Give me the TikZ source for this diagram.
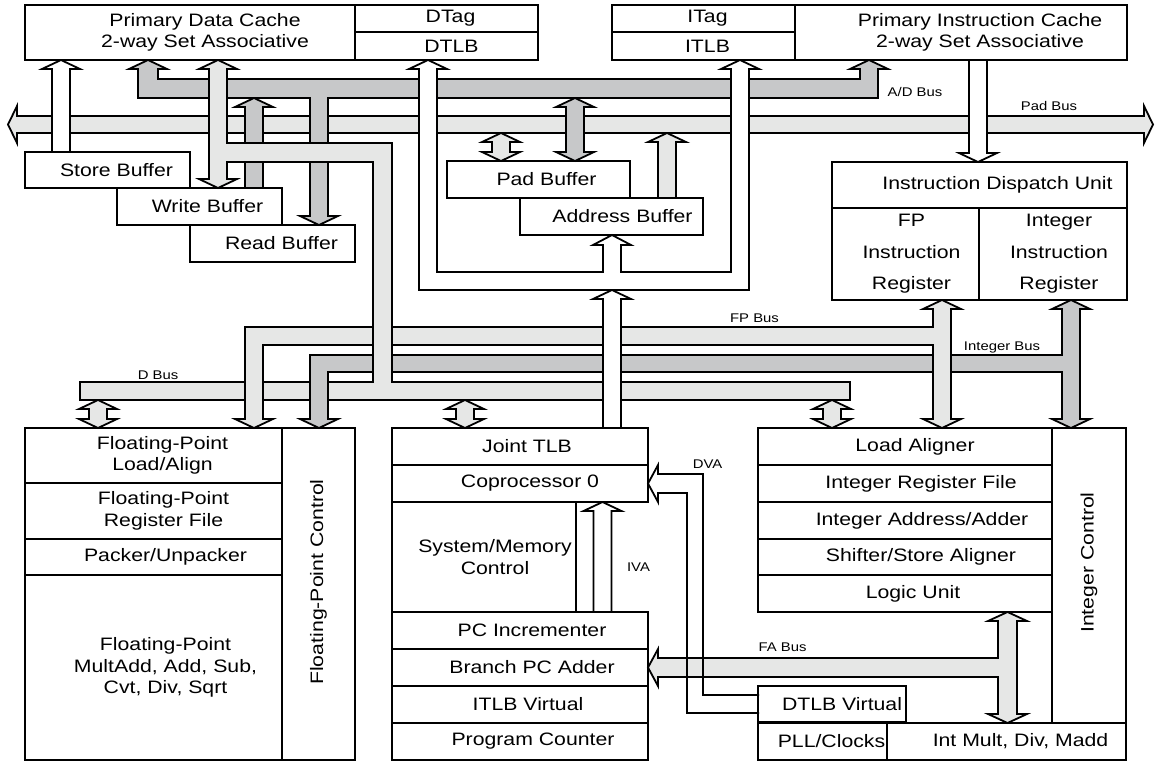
\documentclass[tikz,border=0pt]{standalone}
\usepackage{fontspec}
\setmainfont{Liberation Sans}[FakeStretch=1.18]
\definecolor{busL}{RGB}{230,231,230}
\definecolor{busD}{RGB}{199,200,201}
\newcommand{\boxfont}{\fontsize{9}{10.8}\selectfont}
\newcommand{\busfont}{\fontsize{6.3}{7.5}\selectfont}
% block arrows: [fill]{centre x}{base y}{tip y}
\newcommand{\busup}[4][]{\filldraw[bus,#1] ({#2-9},#3) -- ({#2-9},{#4+9}) -- ({#2-19},{#4+9}) -- (#2,#4) -- ({#2+19},{#4+9}) -- ({#2+9},{#4+9}) -- ({#2+9},#3) -- cycle;}
\newcommand{\busdn}[4][]{\filldraw[bus,#1] ({#2-9},#3) -- ({#2-9},{#4-9}) -- ({#2-19},{#4-9}) -- (#2,#4) -- ({#2+19},{#4-9}) -- ({#2+9},{#4-9}) -- ({#2+9},#3) -- cycle;}
% double block arrow: [fill]{centre x}{top tip y}{bottom tip y}
\newcommand{\busboth}[4][]{\filldraw[bus,#1] (#2,#3) -- ({#2+19},{#3+9}) -- ({#2+9},{#3+9}) -- ({#2+9},{#4-9}) -- ({#2+19},{#4-9}) -- (#2,#4) -- ({#2-19},{#4-9}) -- ({#2-9},{#4-9}) -- ({#2-9},{#3+9}) -- ({#2-19},{#3+9}) -- cycle;}

\begin{document}
\begin{tikzpicture}[x=0.5pt, y=-0.5pt,
    blk/.style n args={2}{draw, line width=0.6pt, anchor=north west,
        minimum width=#1*0.5pt, minimum height=#2*0.5pt,
        inner sep=0pt, outer sep=0pt},
    txt/.style={font=\boxfont, align=center, inner sep=0pt, xshift=#1},
    txt/.default=5pt,
    bus/.style={draw, line width=0.9pt, line join=miter},
    buslbl/.style={font=\busfont, inner sep=0pt}
  ]
  \useasboundingbox (0,0) rectangle (1155,761);

  % Pad bus
  \filldraw[bus, fill=busL] (8,124.5) -- (17,106) -- (17,116) -- (1144,116) -- (1144,106)
    -- (1153,124.5) -- (1144,143) -- (1144,133) -- (17,133) -- (17,143) -- cycle;
  % A/D bus
  \filldraw[bus, fill=busD] (138,98) -- (138,69) -- (129,69) -- (148,60) -- (167,69) -- (158,69)
    -- (158,79) -- (860,79) -- (860,69) -- (850,69) -- (869,60) -- (888,69) -- (878,69)
    -- (878,98) -- (328,98) -- (328,216) -- (338,216) -- (319,225) -- (300,216) -- (310,216)
    -- (310,98) -- cycle;
  \busup[fill=busD]{254}{188}{98}
  \busboth[fill=busD]{575}{98}{161}
  \busup[fill=white]{61}{152}{60}

  % D bus
  \filldraw[bus, fill=busL] (218,60) -- (237,69) -- (227,69) -- (227,143) -- (392,143) -- (392,382)
    -- (850,382) -- (850,400) -- (80,400) -- (80,382) -- (373,382) -- (373,162) -- (227,162)
    -- (227,179) -- (237,179) -- (218,188) -- (199,179) -- (209,179) -- (209,69) -- (199,69) -- cycle;
  \busboth[fill=busL]{98}{400}{428}
  \busboth[fill=busL]{465}{400}{428}
  \busboth[fill=busL]{832}{400}{428}

  % Integer bus
  \filldraw[bus, fill=busD] (1071,300) -- (1090,309) -- (1080,309) -- (1080,419) -- (1090,419)
    -- (1071,428) -- (1052,419) -- (1062,419) -- (1062,372) -- (328,372) -- (328,419) -- (338,419)
    -- (319,428) -- (300,419) -- (310,419) -- (310,355) -- (1062,355) -- (1062,309) -- (1052,309) -- cycle;
  % FP bus
  \filldraw[bus, fill=busL] (942,300) -- (961,309) -- (951,309) -- (951,419) -- (961,419)
    -- (942,428) -- (923,419) -- (933,419) -- (933,345) -- (263,345) -- (263,419) -- (273,419)
    -- (254,428) -- (235,419) -- (245,419) -- (245,327) -- (933,327) -- (933,309) -- (923,309) -- cycle;
  % D bus runs over the FP and integer buses
  \fill[busL] (373,323) rectangle (392,377);
  \draw[line width=0.9pt] (373,323) -- (373,377) (392,323) -- (392,377);

  % address paths
  \filldraw[bus, fill=white] (428,60) -- (447,69) -- (437,69) -- (437,272) -- (603,272) -- (603,245)
    -- (593,245) -- (612,235) -- (631,245) -- (621,245) -- (621,272) -- (731,272) -- (731,69)
    -- (721,69) -- (740,60) -- (759,69) -- (749,69) -- (749,290) -- (419,290) -- (419,69)
    -- (409,69) -- cycle;
  \busup[fill=white]{612}{428}{290}
  \busdn[fill=white]{978}{60}{162}
  \busboth[fill=busL]{501}{133}{161}
  \busup[fill=busL]{667}{198}{133}

  % IVA, FA bus, DVA
  \busup[fill=white]{602.5}{612}{502}
  \filldraw[bus, fill=busL] (648,667.5) -- (658,649) -- (658,658) -- (998,658) -- (998,621)
    -- (988,621) -- (1007.5,612) -- (1027,621) -- (1017,621) -- (1017,714) -- (1027,714)
    -- (1007.5,723) -- (988,714) -- (998,714) -- (998,677) -- (658,677) -- (658,686) -- cycle;
  \draw[bus] (759,695) -- (703,695) -- (703,474) -- (658,474) -- (658,465) -- (648,483.5)
    -- (658,502) -- (658,493) -- (687,493) -- (687,713) -- (759,713);

  % caches
  \node[blk={330}{55}, label={[txt=7.5pt]center:Primary Data Cache\\2-way Set Associative}] (dcache) at (25,5) {};
  \node[blk={183}{27}, label={[txt=2pt]center:DTag}] (dtag) at (dcache.north east) {};
  \node[blk={183}{28}, label={[txt=2.5pt]center:DTLB}] (dtlb) at (dtag.south west) {};
  \node[blk={183}{27}, label={[txt=2pt]center:ITag}] (itag) at (612,5) {};
  \node[blk={183}{28}, label={[txt=2pt]center:ITLB}] (itlb) at (itag.south west) {};
  \node[blk={332}{55}, label={[txt=9.5pt]center:Primary Instruction Cache\\2-way Set Associative}] (icache) at (itag.north east) {};

  % buffers
  \node[blk={165}{36}, label={[txt=4.5pt]center:Store Buffer}] (store) at (25,152) {};
  \node[blk={165}{37}, label={[txt=4pt]center:Write Buffer}] (write) at (117,188) {};
  \node[blk={165}{37}, label={[txt=4.5pt]center:Read Buffer}] (read) at (190,225) {};
  \node[blk={183}{37}, label={[txt=4pt]center:Pad Buffer}] (padbuf) at (447,161) {};
  \node[blk={183}{37}, label={[txt=5.5pt]center:Address Buffer}] (addrbuf) at (520,198) {};

  % dispatch
  \node[blk={295}{46}, label={[txt=9pt]center:Instruction Dispatch Unit}] (idu) at (832,162) {};
  \node[blk={147}{92}, label={[txt=3pt, font=\fontsize{9}{15.8}\selectfont]center:FP\\Instruction\\Register}] (fpir) at (idu.south west) {};
  \node[blk={148}{92}, label={[txt=3pt, font=\fontsize{9}{15.8}\selectfont]center:Integer\\Instruction\\Register}] (intir) at (fpir.north east) {};

  % floating-point unit
  \node[blk={257}{55}, label={[txt=4.5pt]center:Floating-Point\\Load/Align}] (fpla) at (25,428) {};
  \node[blk={257}{56}, label={[txt=5pt]center:Floating-Point\\Register File}] (fprf) at (fpla.south west) {};
  \node[blk={257}{36}, label={[txt=6pt]center:Packer/Unpacker}] (fppack) at (fprf.south west) {};
  \node[blk={257}{185}, label={[txt=6pt]center:{Floating-Point\\MultAdd, Add, Sub,\\Cvt, Div, Sqrt}}] (fpmul) at (fppack.south west) {};
  \node[blk={73}{332}, label={[txt=0pt, yshift=6pt, rotate=90]center:Floating-Point Control}] (fpctl) at (fpla.north east) {};

  % system / PC unit
  \node[blk={256}{37}, label={[txt=3.5pt]center:Joint TLB}] (jtlb) at (392,428) {};
  \node[blk={256}{37}, label={[txt=5pt]center:Coprocessor 0}] (cp0) at (jtlb.south west) {};
  \node[blk={184}{110}, label={[txt=5.5pt]center:System/Memory\\Control}] (sysmem) at (cp0.south west) {};
  \node[blk={256}{37}, label={[txt=6pt]center:PC Incrementer}] (pcinc) at (sysmem.south west) {};
  \node[blk={256}{37}, label={[txt=6pt]center:Branch PC Adder}] (bpc) at (pcinc.south west) {};
  \node[blk={256}{37}, label={[txt=4pt]center:ITLB Virtual}] (itlbv) at (bpc.south west) {};
  \node[blk={256}{37}, label={[txt=6.5pt]center:Program Counter}] (pc) at (itlbv.south west) {};

  % integer unit
  \node[blk={294}{37}, label={[txt=5pt]center:Load Aligner}] (ldal) at (758,428) {};
  \node[blk={294}{37}, label={[txt=8pt]center:Integer Register File}] (irf) at (ldal.south west) {};
  \node[blk={294}{37}, label={[txt=8.5pt]center:Integer Address/Adder}] (iaa) at (irf.south west) {};
  \node[blk={294}{36}, label={[txt=8pt]center:Shifter/Store Aligner}] (shift) at (iaa.south west) {};
  \node[blk={294}{37}, label={[txt=4pt]center:Logic Unit}] (logic) at (shift.south west) {};
  \node[blk={74}{295}, label={[txt=0pt, yshift=6.5pt, rotate=90]center:Integer Control}] (intctl) at (ldal.north east) {};
  \node[blk={148}{36}, label={[txt=5pt]center:DTLB Virtual}] (dtlbv) at (758,686) {};
  \node[blk={129}{37}, label={[txt=4.5pt]center:PLL/Clocks}] (pll) at (758,723) {};
  \node[blk={239}{37}, label={[txt=7pt]center:{Int Mult, Div, Madd}}] (imul) at (pll.north east) {};

  % bus names
  \node[buslbl] (adlbl) at (915,91.5) {A/D Bus};
  \node[buslbl] (padlbl) at (1049,106) {Pad Bus};
  \node[buslbl] (fplbl) at (754.5,318) {FP Bus};
  \node[buslbl] (intlbl) at (1002,347.5) {Integer Bus};
  \node[buslbl] (dlbl) at (158,375) {D Bus};
  \node[buslbl] (dvalbl) at (707.5,464.5) {DVA};
  \node[buslbl] (ivalbl) at (638.5,567) {IVA};
  \node[buslbl] (falbl) at (782.5,647) {FA Bus};
\end{tikzpicture}
\end{document}
